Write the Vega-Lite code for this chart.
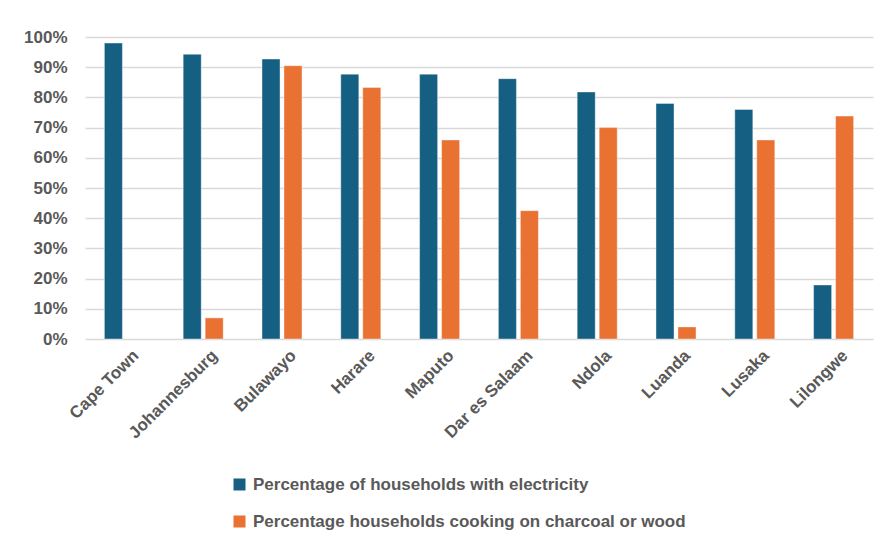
{
  "$schema": "https://vega.github.io/schema/vega-lite/v6.json",
  "width": 788,
  "height": 302,
  "autosize": "none",
  "padding": {"left": 85, "top": 37, "right": 7, "bottom": 204},
  "background": "#ffffff",
  "data": {
    "values": [
      {"city": "Cape Town", "series": "Percentage of households with electricity", "value": 0.98},
      {"city": "Johannesburg", "series": "Percentage of households with electricity", "value": 0.943},
      {"city": "Johannesburg", "series": "Percentage households cooking on charcoal or wood", "value": 0.07},
      {"city": "Bulawayo", "series": "Percentage of households with electricity", "value": 0.927},
      {"city": "Bulawayo", "series": "Percentage households cooking on charcoal or wood", "value": 0.905},
      {"city": "Harare", "series": "Percentage of households with electricity", "value": 0.877},
      {"city": "Harare", "series": "Percentage households cooking on charcoal or wood", "value": 0.833},
      {"city": "Maputo", "series": "Percentage of households with electricity", "value": 0.877},
      {"city": "Maputo", "series": "Percentage households cooking on charcoal or wood", "value": 0.659},
      {"city": "Dar es Salaam", "series": "Percentage of households with electricity", "value": 0.862},
      {"city": "Dar es Salaam", "series": "Percentage households cooking on charcoal or wood", "value": 0.425},
      {"city": "Ndola", "series": "Percentage of households with electricity", "value": 0.818},
      {"city": "Ndola", "series": "Percentage households cooking on charcoal or wood", "value": 0.70},
      {"city": "Luanda", "series": "Percentage of households with electricity", "value": 0.78},
      {"city": "Luanda", "series": "Percentage households cooking on charcoal or wood", "value": 0.04},
      {"city": "Lusaka", "series": "Percentage of households with electricity", "value": 0.76},
      {"city": "Lusaka", "series": "Percentage households cooking on charcoal or wood", "value": 0.659},
      {"city": "Lilongwe", "series": "Percentage of households with electricity", "value": 0.179},
      {"city": "Lilongwe", "series": "Percentage households cooking on charcoal or wood", "value": 0.738}
    ]
  },
  "mark": {"type": "bar", "stroke": "#ffffff", "strokeWidth": 1, "strokeOpacity": 0.4},
  "encoding": {
    "x": {
      "field": "city",
      "type": "nominal",
      "sort": ["Cape Town", "Johannesburg", "Bulawayo", "Harare", "Maputo", "Dar es Salaam", "Ndola", "Luanda", "Lusaka", "Lilongwe"],
      "scale": {"paddingInner": 0.492, "paddingOuter": 0.246},
      "axis": {
        "title": null,
        "labelAngle": -45,
        "labelFont": "Liberation Sans",
        "labelFontSize": 17,
        "labelFontWeight": "bold",
        "labelColor": "#595959",
        "labelPadding": 8,
        "labelOffset": 6,
        "ticks": false,
        "domain": false,
        "grid": false
      }
    },
    "xOffset": {
      "field": "series",
      "type": "nominal",
      "sort": ["Percentage of households with electricity", "Percentage households cooking on charcoal or wood"],
      "scale": {"paddingInner": 0.18, "paddingOuter": 0}
    },
    "y": {
      "field": "value",
      "type": "quantitative",
      "scale": {"domain": [0, 1], "nice": false},
      "axis": {
        "title": null,
        "format": ".0%",
        "values": [0, 0.1, 0.2, 0.3, 0.4, 0.5, 0.6, 0.7, 0.8, 0.9, 1],
        "labelFont": "Liberation Sans",
        "labelFontSize": 17,
        "labelFontWeight": "bold",
        "labelColor": "#595959",
        "labelPadding": 18,
        "ticks": false,
        "domain": false,
        "gridColor": "#D9D9D9",
        "gridWidth": 1.5
      }
    },
    "color": {
      "field": "series",
      "type": "nominal",
      "sort": ["Percentage of households with electricity", "Percentage households cooking on charcoal or wood"],
      "scale": {"range": ["#156082", "#E97132"]},
      "legend": {
        "title": null,
        "orient": "none",
        "legendX": 146,
        "legendY": 439,
        "direction": "vertical",
        "symbolType": "square",
        "symbolSize": 144,
        "symbolStrokeWidth": 0,
        "labelFont": "Liberation Sans",
        "labelFontSize": 17,
        "labelFontWeight": "bold",
        "labelColor": "#595959",
        "labelOffset": 5,
        "rowPadding": 19,
        "padding": 0,
        "labelLimit": 500
      }
    }
  },
  "config": {
    "view": {"stroke": null}
  }
}
